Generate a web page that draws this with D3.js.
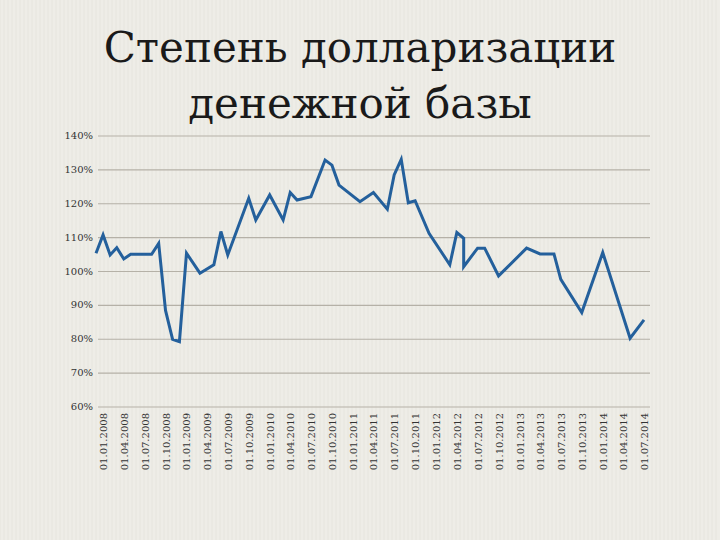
<!DOCTYPE html>
<html><head><meta charset="utf-8">
<script src="https://cdn.jsdelivr.net/npm/d3@7"></script>
<style>body{margin:0;background:#eeede7}</style>
</head><body><div id="chart"></div>
<script>
// vertices of the line (month, percent)
var months = ['2007-12','2008-01','2008-02','2008-03','2008-04','2008-05','2008-08','2008-09','2008-10','2008-11','2008-12','2009-01','2009-03','2009-05','2009-06','2009-07','2009-10','2009-11','2010-01','2010-03','2010-04','2010-05','2010-07','2010-09','2010-10','2010-11','2011-02','2011-04','2011-06','2011-07','2011-08','2011-09','2011-10','2011-12','2012-03','2012-04','2012-05','2012-05','2012-07','2012-08','2012-10','2013-02','2013-04','2013-06','2013-07','2013-10','2014-01','2014-05','2014-07'];
var values = [105.4,110.8,104.9,107.0,103.7,105.1,105.1,108.3,88.5,80.0,79.3,105.4,99.5,102,111.8,104.9,121.6,115.2,122.6,115.2,123.3,121.1,122.1,132.9,131.4,125.5,120.6,123.3,118.4,128.5,133.1,120.3,120.9,111.3,102,111.5,109.8,101.4,106.9,106.9,98.7,106.9,105.2,105.2,97.7,87.9,105.6,80.3,85.7];
var yTicks = [60,70,80,90,100,110,120,130,140];

var parse = d3.timeParse('%Y-%m');
var data = months.map(function(m, i) { return {d: parse(m), v: values[i]}; });
var tickDates = d3.timeMonth.every(3).range(parse('2008-01'), parse('2014-08'));

var svg = d3.select('#chart').append('svg').attr('width', 720).attr('height', 540);

// faint vertical texture of the slide background
svg.append('rect').attr('width', 720).attr('height', 540).attr('fill', '#eeede7');
svg.selectAll('line.tex').data(d3.range(0, 720, 4)).enter().append('line')
    .attr('x1', function(d) { return d; }).attr('x2', function(d) { return d; })
    .attr('y1', 0).attr('y2', 540).attr('stroke', '#e6e5de').attr('stroke-width', 1);

var x = d3.scaleTime().domain([parse('2007-12'), parse('2014-07')]).range([96, 644]);
var y = d3.scaleLinear().domain([60, 140]).range([407, 136]);

svg.append('text').attr('x', 360).attr('y', 62).attr('text-anchor', 'middle')
    .style('font-family', 'DejaVu Serif').style('font-size', '42px').style('font-weight', 300)
    .attr('fill', '#1a1a1a').text('Степень долларизации');
svg.append('text').attr('x', 360).attr('y', 118).attr('text-anchor', 'middle')
    .style('font-family', 'DejaVu Serif').style('font-size', '42px')
    .attr('fill', '#1a1a1a').text('денежной базы');

svg.selectAll('line.grid').data(yTicks).enter().append('line')
    .attr('x1', 98).attr('x2', 650)
    .attr('y1', function(d) { return y(d); }).attr('y2', function(d) { return y(d); })
    .attr('stroke', '#b5b1a7').attr('stroke-width', 1.2);

svg.selectAll('text.yl').data(yTicks).enter().append('text')
    .attr('x', 93).attr('y', function(d) { return y(d) + 3; })
    .attr('text-anchor', 'end')
    .style('font-family', 'DejaVu Serif').style('font-size', '10px').attr('fill', '#333')
    .text(function(d) { return d + '%'; });

var fmt = d3.timeFormat('%d.%m.%Y');
svg.selectAll('text.xl').data(tickDates).enter().append('text')
    .attr('transform', function(d) { return 'translate(' + (x(d) + 4) + ',413) rotate(-90)'; })
    .attr('text-anchor', 'end')
    .style('font-family', 'DejaVu Serif').style('font-size', '10px').attr('fill', '#333')
    .text(function(d) { return fmt(d); });

var line = d3.line().x(function(d) { return x(d.d); }).y(function(d) { return y(d.v); });
svg.append('path').datum(data).attr('d', line)
    .attr('fill', 'none').attr('stroke', '#24609c').attr('stroke-width', 3)
    .attr('stroke-linejoin', 'miter');
</script></body></html>
